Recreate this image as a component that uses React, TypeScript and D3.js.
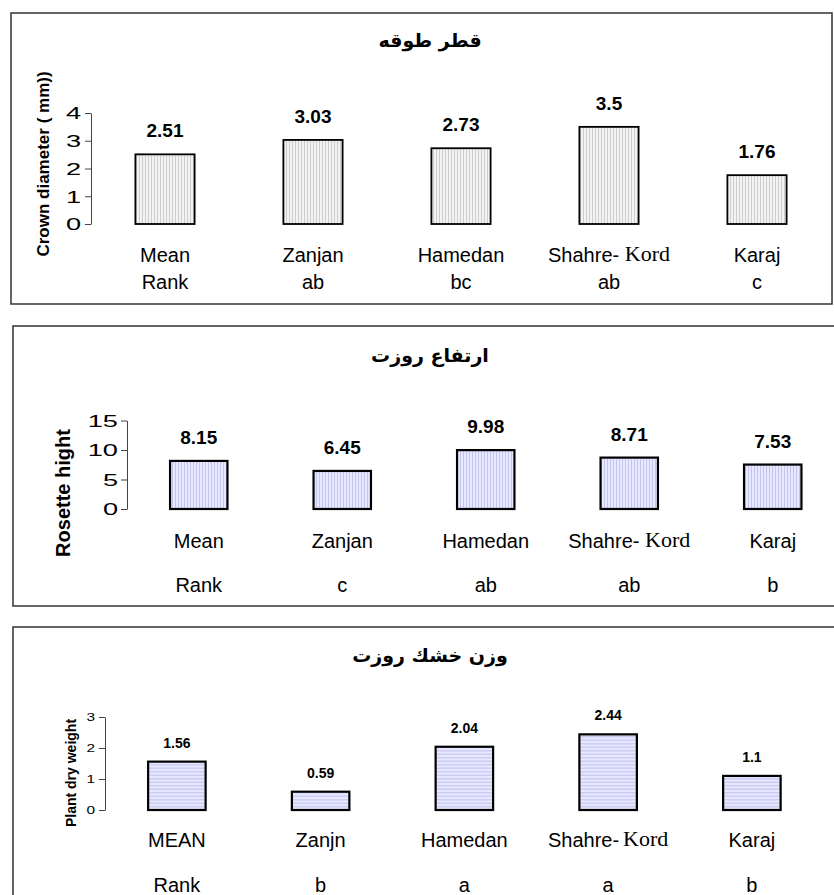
import React, { useEffect, useRef } from 'react';
import * as d3 from 'd3';

// data
const crownCategories = ['Mean', 'Zanjan', 'Hamedan', 'Shahre- Kord', 'Karaj'];
const crownRanks = ['Rank', 'ab', 'bc', 'ab', 'c'];
const crownValues = [2.51, 3.03, 2.73, 3.5, 1.76];
const crownTicks = [0, 1, 2, 3, 4];

const rosetteCategories = ['Mean', 'Zanjan', 'Hamedan', 'Shahre- Kord', 'Karaj'];
const rosetteRanks = ['Rank', 'c', 'ab', 'ab', 'b'];
const rosetteValues = [8.15, 6.45, 9.98, 8.71, 7.53];
const rosetteTicks = [0, 5, 10, 15];

const dryCategories = ['MEAN', 'Zanjn', 'Hamedan', 'Shahre-Kord', 'Karaj'];
const dryRanks = ['Rank', 'b', 'a', 'a', 'b'];
const dryValues = [1.56, 0.59, 2.04, 2.44, 1.1];
const dryTicks = [0, 1, 2, 3];

const SANS = 'Arial, "Liberation Sans", sans-serif';

const App: React.FC = () => {
  const svgRef = useRef<SVGSVGElement | null>(null);

  useEffect(() => {
    if (!svgRef.current) return;
    const svg = d3.select(svgRef.current);
    svg.selectAll('*').remove();

    const defs = svg.append('defs');
    const vPattern = (id: string, bg: string, fg: string) => {
      const p = defs.append('pattern').attr('id', id).attr('patternUnits', 'userSpaceOnUse')
        .attr('width', 3).attr('height', 10);
      p.append('rect').attr('width', 3).attr('height', 10).attr('fill', bg);
      p.append('line').attr('x1', 1.5).attr('x2', 1.5).attr('y1', 0).attr('y2', 10)
        .attr('stroke', fg).attr('stroke-width', 1);
    };
    vPattern('pGray', '#f3f3f3', '#cdcdcd');
    vPattern('pBlueV', '#e8e8ff', '#c4c4f2');
    const hp = defs.append('pattern').attr('id', 'pBlueH').attr('patternUnits', 'userSpaceOnUse')
      .attr('width', 10).attr('height', 3.5);
    hp.append('rect').attr('width', 10).attr('height', 3.5).attr('fill', '#e8e8ff');
    hp.append('line').attr('x1', 0).attr('x2', 10).attr('y1', 1.75).attr('y2', 1.75)
      .attr('stroke', '#bcbcf0').attr('stroke-width', 1);

    const panels = [
      {
        box: [11, 13, 821, 291], title: 'قطر طوقه', titleY: 47,
        cats: crownCategories, ranks: crownRanks, values: crownValues, ticks: crownTicks,
        axisX: 91, xEnd: 831, y0: 224, yTop: 113, max: 4,
        catY: 262, rankY: 289, catFont: 20,
        valFont: 19, valOff: 17, tickFont: 16, tickScale: 1.7, tickGap: 10,
        yLabel: 'Crown diameter ( mm))', yLabelX: 43, yLabelY: 164, yLabelFont: 17,
        fill: 'url(#pGray)', barStroke: 1.8,
      },
      {
        box: [13, 326, 840, 280], title: 'ارتفاع روزت', titleY: 362,
        cats: rosetteCategories, ranks: rosetteRanks, values: rosetteValues, ticks: rosetteTicks,
        axisX: 127, xEnd: 844.5, y0: 509, yTop: 420.5, max: 15,
        catY: 548, rankY: 592, catFont: 20,
        valFont: 19, valOff: 17, tickFont: 16, tickScale: 1.7, tickGap: 9,
        yLabel: 'Rosette hight', yLabelX: 63, yLabelY: 493, yLabelFont: 20,
        fill: 'url(#pBlueV)', barStroke: 2.2,
      },
      {
        box: [13, 627, 840, 300], title: 'وزن خشك روزت', titleY: 662,
        cats: dryCategories, ranks: dryRanks, values: dryValues, ticks: dryTicks,
        axisX: 105, xEnd: 823.75, y0: 810, yTop: 717, max: 3,
        catY: 847, rankY: 892, catFont: 20,
        valFont: 14, valOff: 14, tickFont: 11, tickScale: 1.4, tickGap: 10,
        yLabel: 'Plant dry weight', yLabelX: 71, yLabelY: 773, yLabelFont: 14,
        fill: 'url(#pBlueH)', barStroke: 2.2,
      },
    ];

    panels.forEach((p) => {
      const g = svg.append('g');
      const [bx, by, bw, bh] = p.box;
      g.append('rect').attr('x', bx).attr('y', by).attr('width', bw).attr('height', bh)
        .attr('fill', '#fff').attr('stroke', '#333').attr('stroke-width', 1.5);

      g.append('text').attr('x', 430).attr('y', p.titleY).attr('text-anchor', 'middle')
        .attr('font-family', '"DejaVu Sans", sans-serif').attr('font-weight', 'bold')
        .attr('font-size', 19).attr('direction', 'rtl').attr('unicode-bidi', 'plaintext')
        .text(p.title);

      const x = d3.scaleBand<number>()
        .domain(d3.range(p.values.length))
        .range([p.axisX, p.xEnd])
        .paddingInner(0.6)
        .paddingOuter(0.3);
      const y = d3.scaleLinear().domain([0, p.max]).range([p.y0, p.yTop]);

      // y axis
      const ax = g.append('g').attr('transform', `translate(${p.axisX},0)`)
        .call(d3.axisLeft(y).tickValues(p.ticks).tickFormat(d3.format('d')).tickSize(6).tickSizeOuter(0));
      ax.select('.domain').attr('stroke', '#444');
      ax.selectAll('.tick line').attr('stroke', '#444');
      ax.selectAll('.tick text')
        .attr('x', null).attr('dy', '0.36em')
        .attr('transform', `translate(${-p.tickGap},0) scale(${p.tickScale},1)`)
        .attr('font-family', SANS).attr('font-size', p.tickFont).attr('fill', '#000');

      g.append('text')
        .attr('transform', `translate(${p.yLabelX},${p.yLabelY}) rotate(-90)`)
        .attr('text-anchor', 'middle').attr('dy', '0.35em')
        .attr('font-family', SANS).attr('font-weight', 'bold').attr('font-size', p.yLabelFont)
        .text(p.yLabel);

      // bars
      g.selectAll('rect.bar').data(p.values).enter().append('rect')
        .attr('class', 'bar')
        .attr('x', (_, i) => x(i)!)
        .attr('y', (d) => y(d))
        .attr('width', x.bandwidth())
        .attr('height', (d) => p.y0 - y(d))
        .attr('fill', p.fill).attr('stroke', '#000').attr('stroke-width', p.barStroke);

      // value labels
      g.selectAll('text.val').data(p.values).enter().append('text')
        .attr('class', 'val')
        .attr('x', (_, i) => x(i)! + x.bandwidth() / 2)
        .attr('y', (d) => y(d) - p.valOff)
        .attr('text-anchor', 'middle')
        .attr('font-family', SANS).attr('font-weight', 'bold').attr('font-size', p.valFont)
        .text((d) => String(d));

      // category labels (Kord is set in serif like the original)
      p.cats.forEach((c, i) => {
        const cx = x(i)! + x.bandwidth() / 2;
        const t = g.append('text').attr('x', cx).attr('y', p.catY).attr('text-anchor', 'middle')
          .attr('font-family', SANS).attr('font-size', p.catFont);
        if (c.includes('Kord')) {
          const head = c.replace('Kord', '');
          t.append('tspan').text(head);
          t.append('tspan').attr('dx', head.endsWith(' ') ? 0 : 4).attr('dy', -1.5)
            .attr('font-family', '"Liberation Serif", "Times New Roman", serif')
            .attr('font-size', p.catFont + 2).text('Kord');
        } else {
          t.text(c);
        }
      });

      g.selectAll('text.rank').data(p.ranks).enter().append('text')
        .attr('class', 'rank')
        .attr('x', (_, i) => x(i)! + x.bandwidth() / 2)
        .attr('y', p.rankY)
        .attr('text-anchor', 'middle')
        .attr('font-family', SANS).attr('font-size', p.catFont)
        .text((d) => d);
    });
  }, []);

  return (
    <svg
      ref={svgRef}
      width={834}
      height={895}
      style={{ position: 'absolute', left: 0, top: 0, background: '#fff' }}
    ></svg>
  );
};

export default App;
